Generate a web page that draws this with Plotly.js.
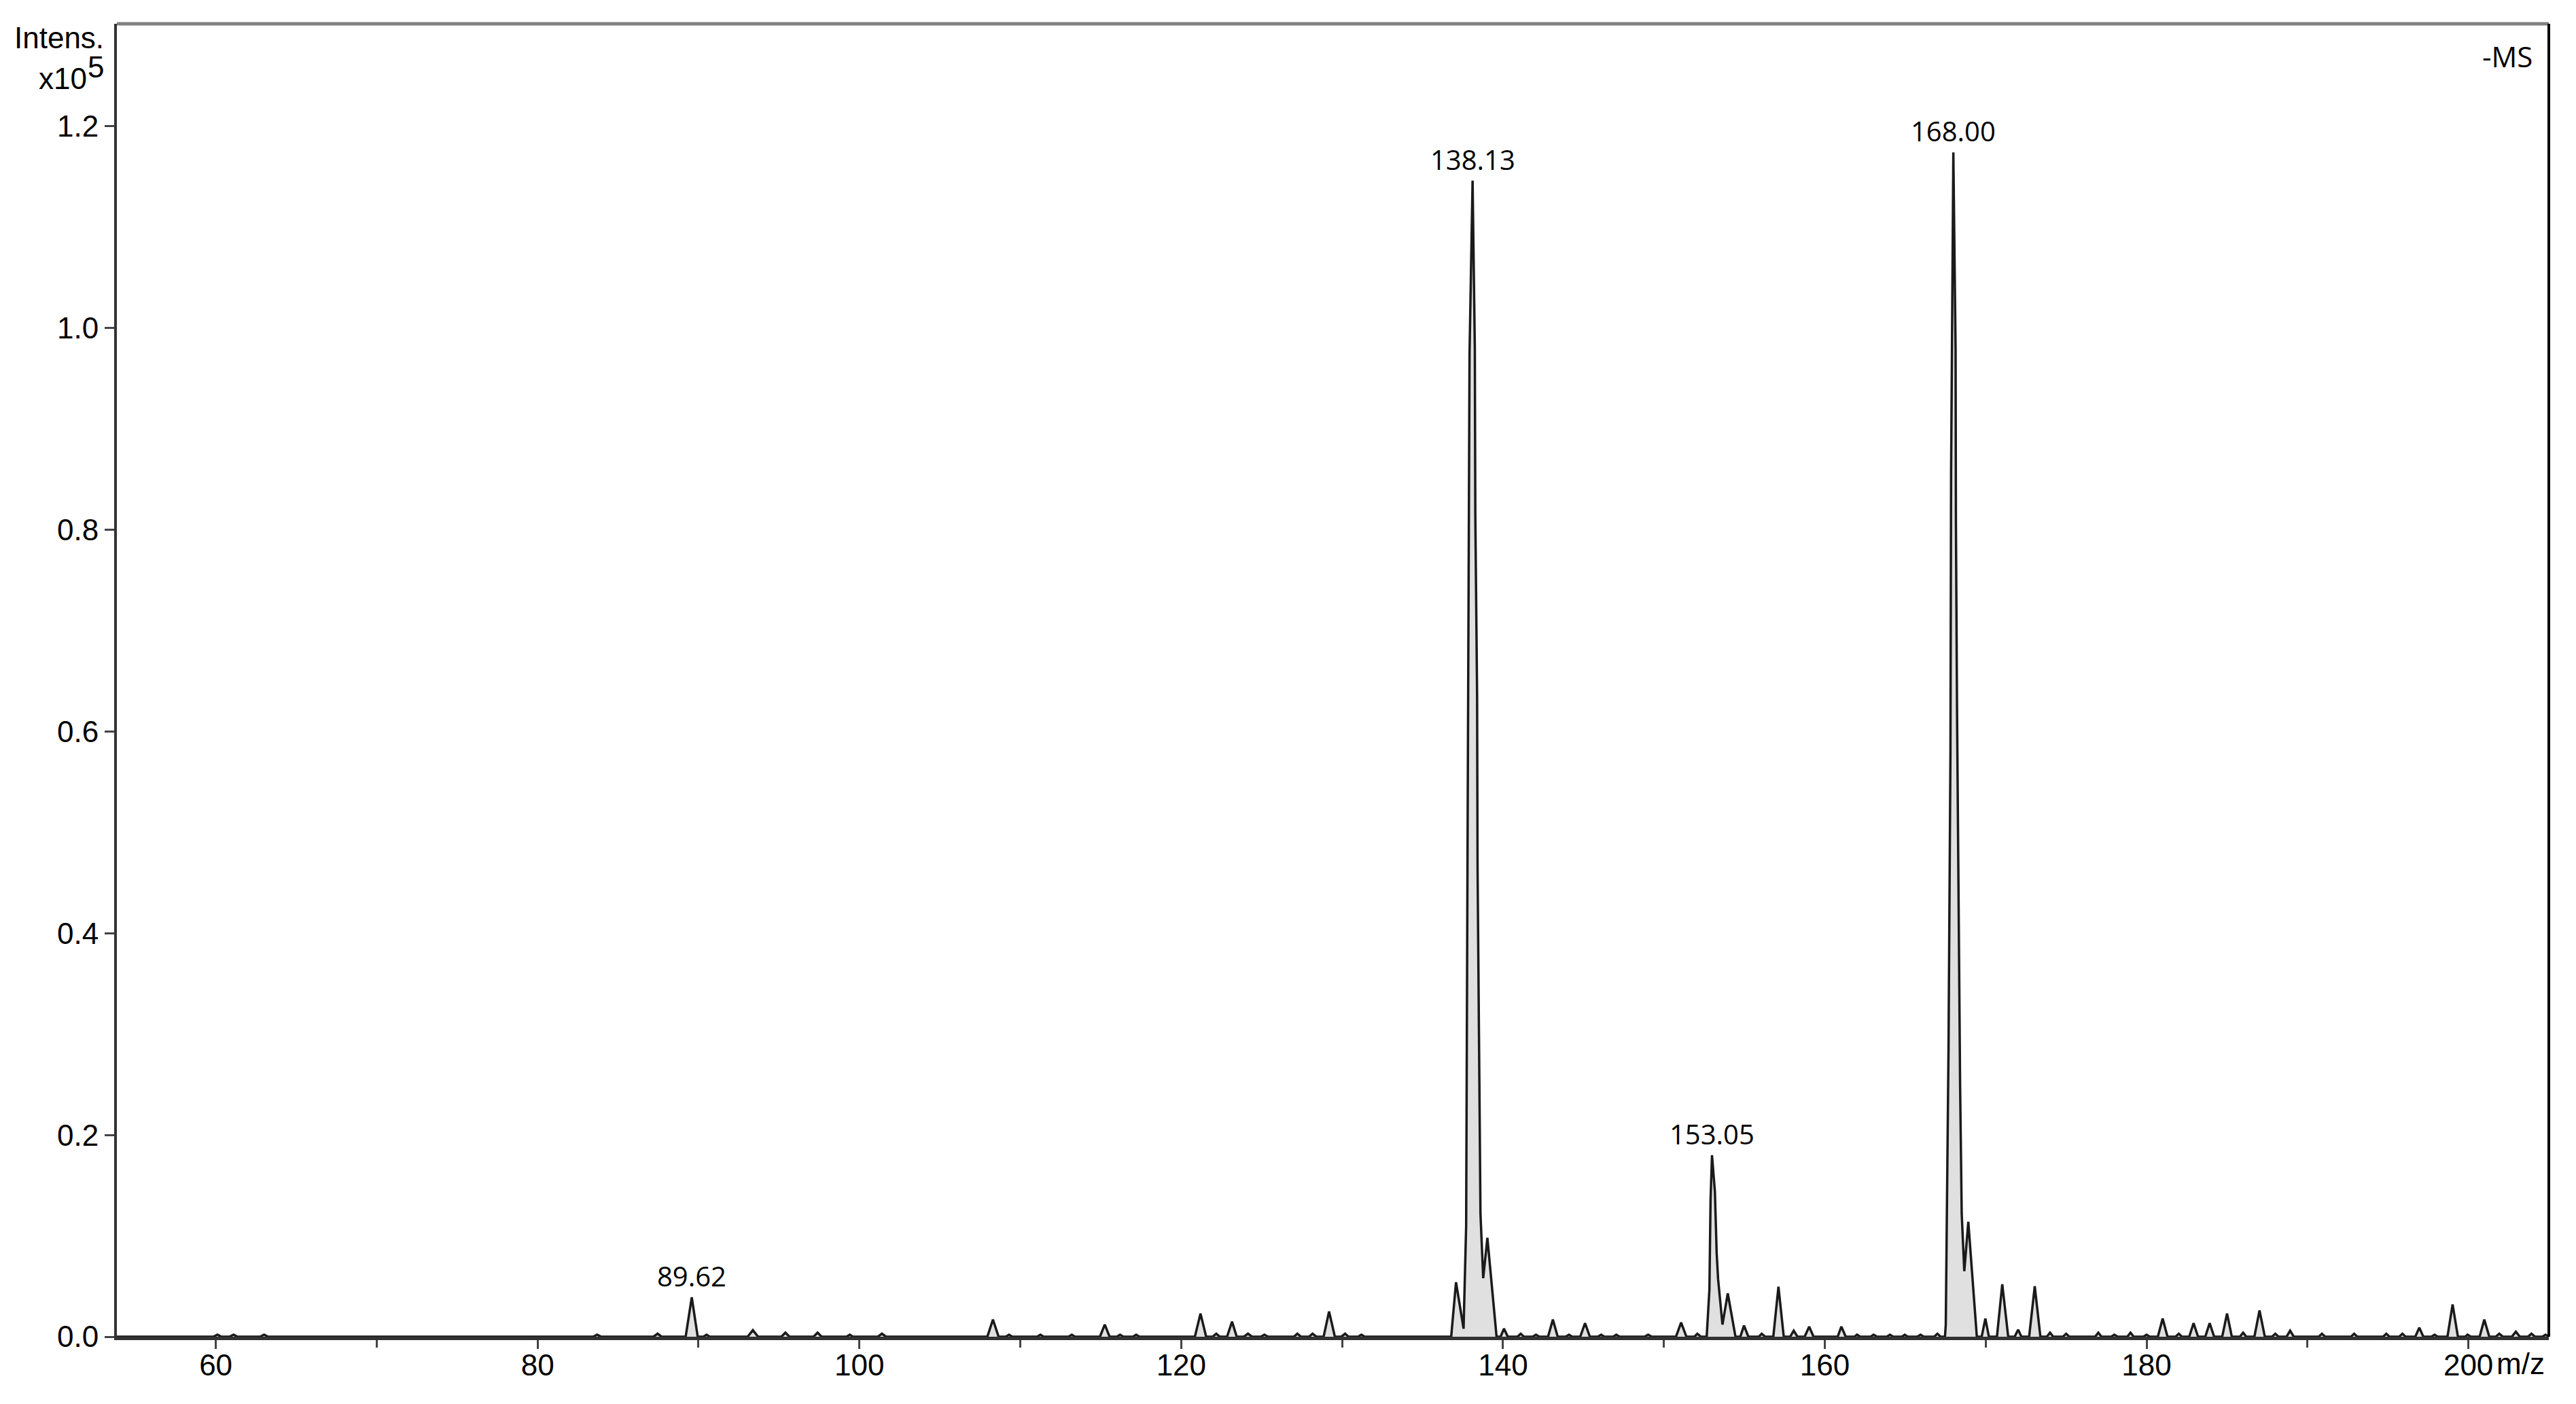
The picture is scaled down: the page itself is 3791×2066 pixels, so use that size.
<!DOCTYPE html>
<html>
<head>
<meta charset="utf-8">
<script src="https://cdn.plot.ly/plotly-3.0.1.min.js"></script>
<style>
  html, body { margin: 0; padding: 0; background: #fff; }
  #spectrum { width: 3791px; height: 2066px; }
</style>
</head>
<body>
<div id="spectrum"></div>
<script>
// profile points [m/z, intensity x10^5]
const lowMass = [
  [53.85, 0], [59.85, 0], [60.1, 0.002], [60.35, 0], [60.85, 0], [61.1, 0.002], [61.35, 0],
  [62.75, 0], [63.0, 0.002], [63.25, 0], [83.45, 0], [83.7, 0.002], [83.95, 0],
  [87.2, 0], [87.46, 0.003], [87.7, 0], [89.2, 0], [89.58, 0.039], [89.95, 0],
  [90.3, 0], [90.5, 0.002], [90.7, 0], [93.05, 0], [93.38, 0.0065], [93.7, 0],
  [95.15, 0], [95.4, 0.004], [95.65, 0], [97.15, 0], [97.4, 0.004], [97.65, 0],
  [99.2, 0], [99.4, 0.002], [99.6, 0], [101.15, 0], [101.4, 0.003], [101.65, 0]
];

const midMass = [
  [107.95, 0], [108.3, 0.017], [108.65, 0], [109.1, 0], [109.3, 0.002], [109.5, 0],
  [111.05, 0], [111.25, 0.002], [111.45, 0], [113.0, 0], [113.2, 0.002], [113.4, 0],
  [114.95, 0], [115.25, 0.012], [115.55, 0], [116.0, 0], [116.2, 0.002], [116.4, 0],
  [117.0, 0], [117.2, 0.002], [117.4, 0], [120.85, 0], [121.2, 0.023], [121.55, 0],
  [121.95, 0], [122.18, 0.003], [122.4, 0], [122.85, 0], [123.16, 0.015], [123.45, 0],
  [123.9, 0], [124.15, 0.003], [124.4, 0], [124.95, 0], [125.17, 0.002], [125.4, 0],
  [127.0, 0], [127.22, 0.003], [127.45, 0], [127.95, 0], [128.16, 0.003], [128.4, 0],
  [128.85, 0], [129.19, 0.025], [129.55, 0], [129.95, 0], [130.19, 0.003], [130.4, 0],
  [131.0, 0], [131.2, 0.002], [131.4, 0]
];

const cluster138 = [
  [136.78, 0], [137.08, 0.054], [137.55, 0.008], [137.71, 0.11], [137.8, 0.497],
  [137.87, 0.79], [137.92, 0.974], [138.11, 1.146], [138.25, 0.98], [138.28, 0.815],
  [138.39, 0.636], [138.42, 0.465], [138.5, 0.318], [138.53, 0.245], [138.6, 0.122],
  [138.77, 0.058], [139.03, 0.098], [139.6, 0],
  [139.85, 0], [140.06, 0.008], [140.3, 0], [140.9, 0], [141.1, 0.003], [141.3, 0],
  [141.85, 0], [142.05, 0.002], [142.25, 0], [142.8, 0], [143.1, 0.017], [143.4, 0],
  [143.9, 0], [144.1, 0.002], [144.3, 0], [144.8, 0], [145.1, 0.0135], [145.4, 0],
  [145.9, 0], [146.1, 0.002], [146.3, 0], [146.85, 0], [147.04, 0.002], [147.25, 0],
  [148.8, 0], [149.02, 0.002], [149.25, 0]
];

const cluster153 = [
  [150.75, 0], [151.07, 0.014], [151.4, 0], [151.9, 0], [152.08, 0.003], [152.3, 0],
  [152.66, 0], [152.83, 0.047], [152.9, 0.135], [152.99, 0.18], [153.17, 0.144],
  [153.28, 0.083], [153.37, 0.057], [153.64, 0.012], [153.97, 0.043], [154.45, 0],
  [154.75, 0], [154.98, 0.011], [155.25, 0], [155.9, 0], [156.08, 0.003], [156.3, 0],
  [156.8, 0], [157.12, 0.0496], [157.45, 0], [157.85, 0], [158.07, 0.006], [158.3, 0],
  [158.75, 0], [159.03, 0.01], [159.3, 0], [160.8, 0], [161.03, 0.01], [161.3, 0],
  [161.85, 0], [162.0, 0.002], [162.2, 0], [162.85, 0], [163.03, 0.002], [163.25, 0],
  [163.85, 0], [164.05, 0.002], [164.25, 0], [164.8, 0], [164.97, 0.002], [165.15, 0],
  [165.75, 0], [165.95, 0.002], [166.15, 0], [166.8, 0], [167.0, 0.003], [167.2, 0]
];

const cluster168 = [
  [167.47, 0], [167.52, 0.012], [167.69, 0.286], [167.81, 0.579], [167.85, 0.857],
  [167.99, 1.174], [168.13, 0.979], [168.15, 0.807], [168.22, 0.62], [168.33, 0.383],
  [168.41, 0.25], [168.51, 0.122], [168.67, 0.065], [168.92, 0.114], [169.45, 0],
  [169.75, 0], [169.98, 0.018], [170.2, 0], [170.7, 0], [171.03, 0.052], [171.4, 0],
  [171.8, 0], [172.02, 0.007], [172.22, 0], [172.7, 0], [173.05, 0.05], [173.4, 0],
  [173.8, 0], [174.0, 0.004], [174.2, 0], [174.8, 0], [175.0, 0.003], [175.2, 0]
];

const highMass = [
  [176.8, 0], [177.0, 0.004], [177.2, 0], [177.8, 0], [178.0, 0.002], [178.2, 0],
  [178.8, 0], [179.0, 0.004], [179.2, 0], [179.8, 0], [180.0, 0.002], [180.2, 0],
  [180.7, 0], [181.0, 0.018], [181.3, 0], [181.8, 0], [182.0, 0.003], [182.2, 0],
  [182.65, 0], [182.92, 0.0135], [183.2, 0], [183.65, 0], [183.92, 0.0135], [184.2, 0],
  [184.7, 0], [185.0, 0.023], [185.3, 0], [185.8, 0], [186.0, 0.004], [186.2, 0],
  [186.7, 0], [187.02, 0.026], [187.35, 0], [187.8, 0], [188.0, 0.003], [188.2, 0],
  [188.7, 0], [188.92, 0.006], [189.15, 0], [190.7, 0], [190.9, 0.003], [191.1, 0],
  [192.7, 0], [192.9, 0.003], [193.1, 0], [194.7, 0], [194.9, 0.003], [195.1, 0],
  [195.7, 0], [195.9, 0.003], [196.1, 0], [196.7, 0], [196.95, 0.009], [197.2, 0],
  [197.7, 0], [197.9, 0.002], [198.1, 0], [198.7, 0], [199.02, 0.032], [199.35, 0],
  [199.8, 0], [199.95, 0.002], [200.15, 0], [200.7, 0], [200.99, 0.017], [201.3, 0],
  [201.7, 0], [201.92, 0.003], [202.15, 0], [202.7, 0], [202.95, 0.005], [203.2, 0],
  [203.7, 0], [203.92, 0.003], [204.15, 0], [204.6, 0], [204.8, 0.002], [205.0, 0]
];

// labelled peaks
const peakLabels = ["89.62", "138.13", "153.05", "168.00"];

const profile = [].concat(lowMass, midMass, cluster138, cluster153, cluster168, highMass);
const mz = profile.map((p) => p[0]);
const intens = profile.map((p) => p[1]);

// put each label over the tallest point near its m/z
const annotations = peakLabels.map((lbl) => {
  const target = parseFloat(lbl);
  let best = 0;
  let bestX = target;
  profile.forEach((p) => {
    if (Math.abs(p[0] - target) < 0.5 && p[1] > best) {
      best = p[1];
      bestX = p[0];
    }
  });
  return {
    x: bestX, y: best, xref: "x", yref: "y",
    text: lbl, showarrow: false, yanchor: "bottom", yshift: 2,
    font: { family: "Open Sans", size: 40, color: "#000" },
  };
});

const axisFont = { family: "Liberation Sans, Arial", size: 44, color: "#000" };

annotations.push(
  { xref: "paper", yref: "paper", x: -0.0047, y: 0.9896, xanchor: "right", yanchor: "middle",
    text: "Intens.", showarrow: false, font: axisFont },
  { xref: "paper", yref: "paper", x: -0.0117, y: 0.9585, xanchor: "right", yanchor: "middle",
    text: "x10", showarrow: false, font: axisFont },
  { xref: "paper", yref: "paper", x: -0.0047, y: 0.967, xanchor: "right", yanchor: "middle",
    text: "5", showarrow: false, font: axisFont },
  { xref: "paper", yref: "paper", x: 0.9939, y: 0.9752, xanchor: "right", yanchor: "middle",
    text: "-MS", showarrow: false, font: { family: "Open Sans", size: 42, color: "#000" } },
  { xref: "paper", yref: "paper", x: 0.9989, y: -0.0207, xanchor: "right", yanchor: "middle",
    text: "m/z", showarrow: false, font: axisFont }
);

const data = [
  {
    x: mz,
    y: intens,
    type: "scatter",
    mode: "lines",
    line: { color: "#1a1a1a", width: 3.5 },
    fill: "tozeroy",
    fillcolor: "#e0e0e0",
    hoverinfo: "skip",
  },
];

const layout = {
  width: 3791,
  height: 2066,
  margin: { l: 172, r: 40, t: 35, b: 99 },
  paper_bgcolor: "#fff",
  plot_bgcolor: "#fff",
  showlegend: false,
  xaxis: {
    range: [53.85, 205],
    tickmode: "linear", tick0: 60, dtick: 20,
    ticks: "outside", ticklen: 13, tickwidth: 3, tickcolor: "#444",
    ticklabelstandoff: -14,
    minor: { ticks: "outside", dtick: 10, tick0: 60, ticklen: 11, tickwidth: 3, tickcolor: "#444" },
    showline: true, linecolor: "#333", linewidth: 5,
    showgrid: false, zeroline: false,
    tickfont: axisFont,
  },
  yaxis: {
    range: [0, 1.3015],
    tickmode: "linear", tick0: 0, dtick: 0.2, tickformat: ".1f",
    ticks: "outside", ticklen: 14, tickwidth: 3, tickcolor: "#444",
    showline: true, linecolor: "#333", linewidth: 4,
    showgrid: false, zeroline: false,
    tickfont: axisFont,
  },
  shapes: [
    { type: "line", xref: "paper", yref: "paper", x0: 0, x1: 1, y0: 1, y1: 1,
      line: { color: "#808080", width: 5 } },
    { type: "line", xref: "paper", yref: "paper", x0: 1, x1: 1, y0: 0, y1: 1,
      line: { color: "#000", width: 4 } },
  ],
  annotations: annotations,
};

Plotly.newPlot("spectrum", data, layout, { staticPlot: true, displayModeBar: false });
</script>
</body>
</html>
